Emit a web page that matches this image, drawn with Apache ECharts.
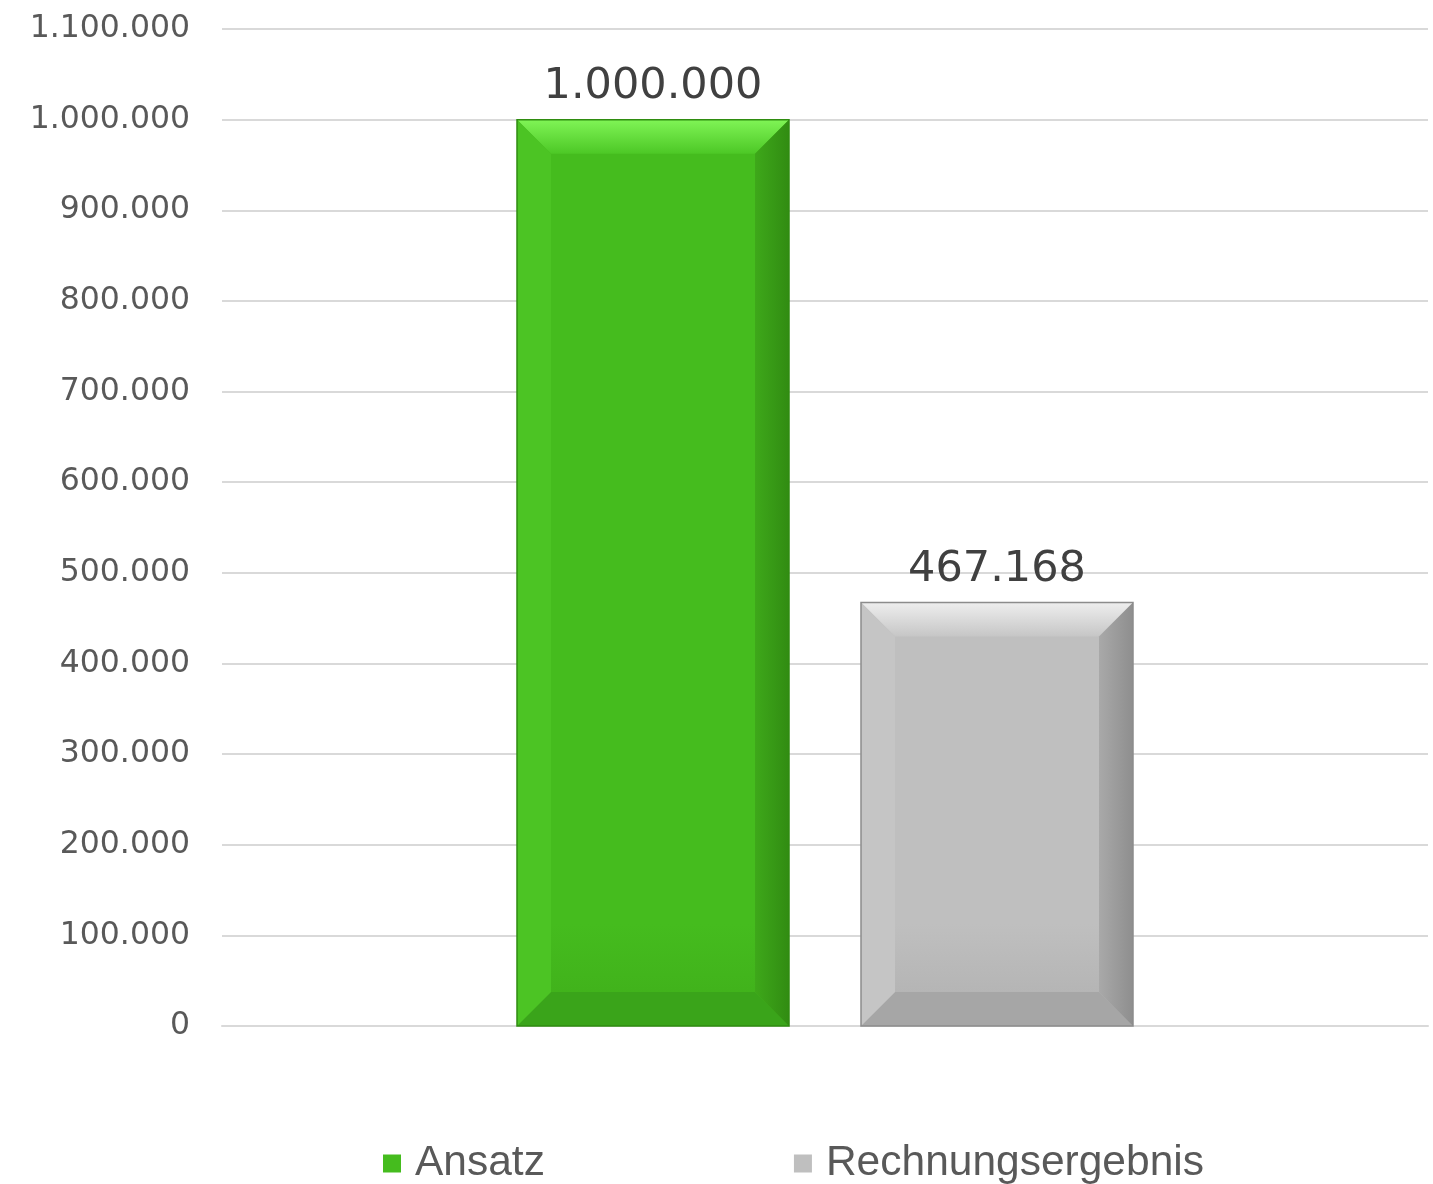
<!DOCTYPE html>
<html>
<head>
<meta charset="utf-8">
<script src="https://cdn.jsdelivr.net/npm/echarts@6/dist/echarts.min.js"></script>
<style>
  html, body { margin: 0; padding: 0; background: #fff; }
  #main { width: 1433px; height: 1184px; }
</style>
</head>
<body>
<div id="main"></div>
<script>
// data
const categories = [''];
const seriesNames = ['Ansatz', 'Rechnungsergebnis'];
const ansatzValues = [1000000];
const ergebnisValues = [467168];
const yTicks = { min: 0, max: 1100000, interval: 100000 };

// colours of the bevelled bars
const palettes = [
  { face: '#45bc1e', faceLow: '#3fae1a', topHi: '#80f456', topLo: '#4dc826', left: '#4cc424',
    rightHi: '#3ea81a', rightLo: '#318c12', bottom: '#3aa41a', border: '#2f8c10' },
  { face: '#bfbfbf', faceLow: '#b0b0b0', topHi: '#eeeeee', topLo: '#c6c6c6', left: '#c5c5c5',
    rightHi: '#a9a9a9', rightLo: '#8e8e8e', bottom: '#a6a6a6', border: '#8c8c8c' }
];

function fmt(v) {
  return String(Math.round(v)).replace(/\B(?=(\d{3})+(?!\d))/g, '.');
}

const chart = echarts.init(document.getElementById('main'), null, { renderer: 'canvas' });

// bar width / offset as part of the category band
const BAR_FRAC = 272 / 1206;
const OFF_FRAC = 172 / 1206;
const BEVEL = 34;

function grad(x, y, x2, y2, c1, c2) {
  return new echarts.graphic.LinearGradient(x, y, x2, y2, [
    { offset: 0, color: c1 }, { offset: 1, color: c2 }
  ]);
}

function makeRender(idx) {
  const pal = palettes[idx];
  return function (params, api) {
    const val = api.value(1);
    const base = api.coord([api.value(0), 0]);
    const topPt = api.coord([api.value(0), val]);
    const band = api.size([1, 0])[0];
    const w = band * BAR_FRAC;
    const cx = base[0] + (idx === 0 ? -1 : 1) * band * OFF_FRAC;
    const x0 = cx - w / 2, x1 = cx + w / 2;
    const y0 = topPt[1], y1 = base[1];
    const b = Math.min(BEVEL, (y1 - y0) / 2, w / 2);
    const poly = (pts, c) => ({ type: 'polygon', shape: { points: pts }, style: { fill: c } });
    return {
      type: 'group',
      children: [
        { type: 'rect', shape: { x: x0, y: y0, width: w, height: y1 - y0 },
          style: { fill: pal.face } },
        { type: 'rect', shape: { x: x0, y: y1 - 3 * b, width: w, height: 3 * b },
          style: { fill: grad(0, 0, 0, 1, pal.face, pal.faceLow) } },
        poly([[x0, y0], [x1, y0], [x1 - b, y0 + b], [x0 + b, y0 + b]], grad(0, 0, 0, 1, pal.topHi, pal.topLo)),
        poly([[x0, y1], [x1, y1], [x1 - b, y1 - b], [x0 + b, y1 - b]], pal.bottom),
        poly([[x0, y0], [x0 + b, y0 + b], [x0 + b, y1 - b], [x0, y1]], pal.left),
        poly([[x1, y0], [x1 - b, y0 + b], [x1 - b, y1 - b], [x1, y1]], grad(0, 0, 1, 0, pal.rightHi, pal.rightLo)),
        { type: 'rect', shape: { x: x0, y: y0, width: w, height: y1 - y0 },
          style: { fill: 'none', stroke: pal.border, lineWidth: 1.5 } },
        { type: 'text', x: cx, y: y0 - 33,
          style: { text: fmt(val), fill: '#404040', font: '43px "DejaVu Sans"',
                   align: 'center', verticalAlign: 'middle' } }
      ]
    };
  };
}

const option = {
  animation: false,
  grid: { left: 222, right: 5, top: 29, bottom: 158, containLabel: false },
  legend: {
    data: seriesNames,
    left: 378,
    top: 1137,
    icon: 'rect',
    itemWidth: 18,
    itemHeight: 18,
    itemGap: 249,
    textStyle: { fontFamily: 'Liberation Sans', fontSize: 42.5, color: '#595959', padding: [0, 0, 0, 9] }
  },
  xAxis: {
    type: 'category',
    data: categories,
    axisLine: { show: true, lineStyle: { color: '#d9d9d9', width: 2 } },
    axisTick: { show: false },
    axisLabel: { show: false }
  },
  yAxis: {
    type: 'value',
    min: yTicks.min,
    max: yTicks.max,
    interval: yTicks.interval,
    axisLine: { show: false },
    axisTick: { show: false },
    splitLine: { lineStyle: { color: '#d9d9d9', width: 2 } },
    axisLabel: {
      formatter: fmt,
      margin: 32,
      fontFamily: 'DejaVu Sans',
      fontSize: 31.5,
      color: '#595959',
      padding: [4, 0, 0, 0]
    }
  },
  series: [
    {
      name: seriesNames[0],
      type: 'custom',
      renderItem: makeRender(0),
      itemStyle: { color: palettes[0].face },
      data: categories.map((c, i) => [i, ansatzValues[i]]),
      z: 3
    },
    {
      name: seriesNames[1],
      type: 'custom',
      renderItem: makeRender(1),
      itemStyle: { color: palettes[1].face },
      data: categories.map((c, i) => [i, ergebnisValues[i]]),
      z: 3
    }
  ]
};

chart.setOption(option);
</script>
</body>
</html>
